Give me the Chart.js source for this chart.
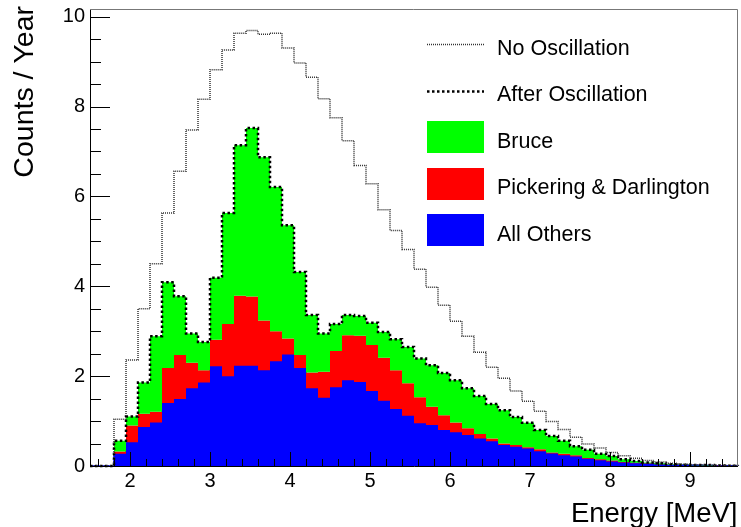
<!DOCTYPE html>
<html>
<head>
<meta charset="utf-8">
<script src="https://cdn.jsdelivr.net/npm/chart.js@4.4.1/dist/chart.umd.min.js"></script>
<style>
  html, body { margin: 0; padding: 0; background: #fff; }
  #wrap { width: 741px; height: 527px; }
</style>
</head>
<body>
<div id="wrap"><canvas id="c" width="741" height="527"></canvas></div>
<script>
// Bin edges in MeV (54 bins of 0.15 MeV)
const binEdges = [1.5, 1.65, 1.8, 1.95, 2.1, 2.25, 2.4, 2.55, 2.7, 2.85, 3.0, 3.15, 3.3, 3.45, 3.6, 3.75,
  3.9, 4.05, 4.2, 4.35, 4.5, 4.65, 4.8, 4.95, 5.1, 5.25, 5.4, 5.55, 5.7, 5.85, 6.0, 6.15, 6.3, 6.45,
  6.6, 6.75, 6.9, 7.05, 7.2, 7.35, 7.5, 7.65, 7.8, 7.95, 8.1, 8.25, 8.4, 8.55, 8.7, 8.85, 9.0, 9.15,
  9.3, 9.45, 9.6];

// Expected counts per year in each bin
const noOscillation = [0, 0, 1.04, 2.36, 3.50, 4.50, 5.63, 6.56, 7.48, 8.16, 8.82, 9.26, 9.63, 9.69,
  9.61, 9.63, 9.30, 8.97, 8.65, 8.17, 7.75, 7.24, 6.69, 6.28, 5.70, 5.24, 4.82, 4.38, 3.98, 3.58,
  3.22, 2.89, 2.53, 2.20, 1.95, 1.67, 1.44, 1.22, 0.99, 0.81, 0.64, 0.49, 0.40, 0.30, 0.23, 0.17,
  0.12, 0.09, 0.06, 0.04, 0.03, 0.02, 0.015, 0.01];

const allOthers = [0, 0, 0.27, 0.53, 0.87, 0.97, 1.40, 1.49, 1.73, 1.86, 2.22, 2.00, 2.23, 2.23, 2.13,
  2.33, 2.48, 2.18, 1.73, 1.52, 1.75, 1.91, 1.87, 1.67, 1.45, 1.27, 1.12, 0.95, 0.91, 0.80, 0.75,
  0.69, 0.61, 0.55, 0.47, 0.43, 0.39, 0.33, 0.28, 0.24, 0.21, 0.16, 0.13, 0.10, 0.08, 0.06, 0.05,
  0.035, 0.025, 0.02, 0.015, 0.01, 0.008, 0.005];

const pickeringDarlington = [0, 0, 0.05, 0.37, 0.29, 0.24, 0.78, 0.98, 0.57, 0.27, 0.59, 1.16, 1.56,
  1.54, 1.11, 0.67, 0.36, 0.29, 0.35, 0.58, 0.81, 1.00, 1.03, 1.02, 0.96, 0.86, 0.72, 0.58, 0.41,
  0.33, 0.22, 0.15, 0.10, 0.06, 0.03, 0.04, 0.03, 0.04, 0.02, 0.03, 0.03, 0.02, 0.02, 0.02, 0.01,
  0.01, 0.01, 0.005, 0.005, 0.002, 0.002, 0.002, 0.001, 0.001];

const bruce = [0, 0, 0.24, 0.20, 0.70, 1.68, 1.91, 1.31, 0.65, 0.63, 1.38, 2.47, 3.35, 3.75, 3.63,
  3.21, 2.52, 1.85, 1.28, 0.85, 0.60, 0.45, 0.44, 0.50, 0.57, 0.69, 0.81, 0.86, 0.92, 0.94, 0.94,
  0.89, 0.85, 0.77, 0.74, 0.62, 0.54, 0.43, 0.37, 0.29, 0.20, 0.18, 0.12, 0.10, 0.06, 0.04, 0.02,
  0.02, 0.01, 0.008, 0.008, 0.008, 0.003, 0.002];

// Axis ticks and titles
const xLabelTicks = [2, 3, 4, 5, 6, 7, 8, 9];
const xMinorTicks = [1.6, 1.8, 2.2, 2.4, 2.6, 2.8, 3.2, 3.4, 3.6, 3.8, 4.2, 4.4, 4.6, 4.8, 5.2, 5.4,
  5.6, 5.8, 6.2, 6.4, 6.6, 6.8, 7.2, 7.4, 7.6, 7.8, 8.2, 8.4, 8.6, 8.8, 9.2, 9.4];
const yLabelTicks = [0, 2, 4, 6, 8, 10];
const yMinorTicks = [0.5, 1, 1.5, 2.5, 3, 3.5, 4.5, 5, 5.5, 6.5, 7, 7.5, 8.5, 9, 9.5];
const xTitle = 'Energy [MeV]';
const yTitle = 'Counts / Year';

// Stack the sources: All Others at the bottom, then Pickering & Darlington, then Bruce
const stackOthers = allOthers.slice();
const stackPickering = stackOthers.map((v, i) => v + pickeringDarlington[i]);
const stackBruce = stackPickering.map((v, i) => v + bruce[i]);

// Histogram outline: one point per lower edge, plus a closing point at the last edge
function histPoints(values) {
  return binEdges.map((x, i) => ({ x: x, y: i < values.length ? values[i] : 0 }));
}

const FONT = "'Liberation Sans', Arial, Helvetica, sans-serif";

// Frame and inward-pointing tick marks
const frameTicks = {
  id: 'frameTicks',
  afterDatasetsDraw(chart) {
    const { ctx, chartArea: a, scales } = chart;
    const xs = scales.x, ys = scales.y;
    ctx.save();
    ctx.strokeStyle = '#000';
    ctx.lineWidth = 1;
    ctx.beginPath();
    xLabelTicks.forEach(v => {
      const px = Math.round(xs.getPixelForValue(v)) + 0.5;
      ctx.moveTo(px, a.bottom); ctx.lineTo(px, a.bottom - 14);
    });
    xMinorTicks.forEach(v => {
      const px = Math.round(xs.getPixelForValue(v)) + 0.5;
      ctx.moveTo(px, a.bottom); ctx.lineTo(px, a.bottom - 7);
    });
    yLabelTicks.forEach(v => {
      const py = Math.round(ys.getPixelForValue(v)) + 0.5;
      ctx.moveTo(a.left, py); ctx.lineTo(a.left + 20, py);
    });
    yMinorTicks.forEach(v => {
      const py = Math.round(ys.getPixelForValue(v)) + 0.5;
      ctx.moveTo(a.left, py); ctx.lineTo(a.left + 11, py);
    });
    ctx.stroke();
    // axes
    ctx.beginPath();
    ctx.moveTo(a.left + 0.5, a.top); ctx.lineTo(a.left + 0.5, a.bottom + 0.5);
    ctx.lineTo(a.right, a.bottom + 0.5);
    ctx.stroke();
    // frame top / right
    ctx.strokeStyle = '#777';
    ctx.beginPath();
    ctx.moveTo(a.left, a.top + 0.5); ctx.lineTo(a.right - 0.5, a.top + 0.5);
    ctx.lineTo(a.right - 0.5, a.bottom);
    ctx.stroke();
    ctx.restore();
  }
};

// Axis titles placed at the far ends of the axes
const axisTitles = {
  id: 'axisTitles',
  afterDraw(chart) {
    const { ctx, chartArea: a } = chart;
    ctx.save();
    ctx.fillStyle = '#000';
    ctx.textBaseline = 'alphabetic';
    ctx.textAlign = 'right';
    ctx.font = '27.5px ' + FONT;
    ctx.fillText(xTitle, a.right - 0.5, 521.5);
    ctx.translate(33, a.top - 3);
    ctx.rotate(-Math.PI / 2);
    ctx.font = '28.5px ' + FONT;
    ctx.fillText(yTitle, 0, 0);
    ctx.restore();
  }
};

// Legend drawn in the upper right of the plot
const histLegend = {
  id: 'histLegend',
  afterDraw(chart) {
    const { ctx } = chart;
    const order = [4, 3, 2, 1, 0];
    const x0 = 427, x1 = 484, textX = 497, rowTop = 44, rowStep = 46.5;
    ctx.save();
    ctx.font = '21.5px ' + FONT;
    ctx.textAlign = 'left';
    ctx.textBaseline = 'alphabetic';
    order.forEach((idx, r) => {
      const ds = chart.data.datasets[idx];
      const cy = rowTop + r * rowStep;
      if (ds.fill) {
        ctx.fillStyle = ds.backgroundColor;
        ctx.fillRect(x0, Math.round(cy - 16), x1 - x0, 32);
      } else {
        ctx.strokeStyle = ds.borderColor;
        ctx.lineWidth = ds.borderWidth;
        ctx.setLineDash(ds.borderDash || []);
        ctx.beginPath();
        ctx.moveTo(x0, Math.round(cy) + 0.5);
        ctx.lineTo(x1, Math.round(cy) + 0.5);
        ctx.stroke();
        ctx.setLineDash([]);
      }
      ctx.fillStyle = '#000';
      ctx.fillText(ds.label, textX, cy + 10.5);
    });
    ctx.restore();
  }
};

new Chart(document.getElementById('c'), {
  type: 'line',
  data: {
    datasets: [
      { label: 'All Others', data: histPoints(stackOthers), stepped: true, fill: 'origin',
        backgroundColor: '#0000ff', borderColor: '#0000ff', borderWidth: 1.5, order: 4, clip: false },
      { label: 'Pickering & Darlington', data: histPoints(stackPickering), stepped: true, fill: '-1',
        backgroundColor: '#ff0000', borderColor: '#ff0000', borderWidth: 0, order: 3 },
      { label: 'Bruce', data: histPoints(stackBruce), stepped: true, fill: '-1',
        backgroundColor: '#00ff00', borderColor: '#00ff00', borderWidth: 0, order: 2 },
      { label: 'After Oscillation', data: histPoints(stackBruce), stepped: true, fill: false,
        borderColor: '#000000', borderWidth: 2.5, borderDash: [2.5, 2.5], order: 1, clip: false },
      { label: 'No Oscillation', data: histPoints(noOscillation), stepped: true, fill: false,
        borderColor: '#333333', borderWidth: 1.5, borderDash: [1, 1], order: 0, clip: false }
    ]
  },
  options: {
    responsive: false,
    animation: false,
    devicePixelRatio: 1,
    layout: { padding: { top: 9, right: 3, left: 0, bottom: 0 } },
    plugins: { legend: { display: false }, tooltip: { enabled: false } },
    elements: { point: { radius: 0 }, line: { tension: 0 } },
    scales: {
      x: {
        type: 'linear', min: 1.5, max: 9.6,
        grid: { display: false, drawTicks: false },
        border: { display: false },
        afterBuildTicks: s => { s.ticks = xLabelTicks.map(v => ({ value: v })); },
        afterFit: s => { s.height = 61; s.paddingLeft = 0; s.paddingRight = 0; },
        ticks: { font: { family: FONT, size: 20 }, color: '#000', padding: 3, maxRotation: 0, autoSkip: false },
        title: { display: false }
      },
      y: {
        min: 0, max: 10.17,
        grid: { display: false, drawTicks: false },
        border: { display: false },
        afterBuildTicks: s => { s.ticks = yLabelTicks.map(v => ({ value: v })); },
        afterFit: s => { s.width = 90; s.paddingTop = 0; s.paddingBottom = 0; },
        ticks: { font: { family: FONT, size: 20 }, color: '#000', padding: 5, autoSkip: false },
        title: { display: false }
      }
    }
  },
  plugins: [frameTicks, axisTitles, histLegend]
});
</script>
</body>
</html>
